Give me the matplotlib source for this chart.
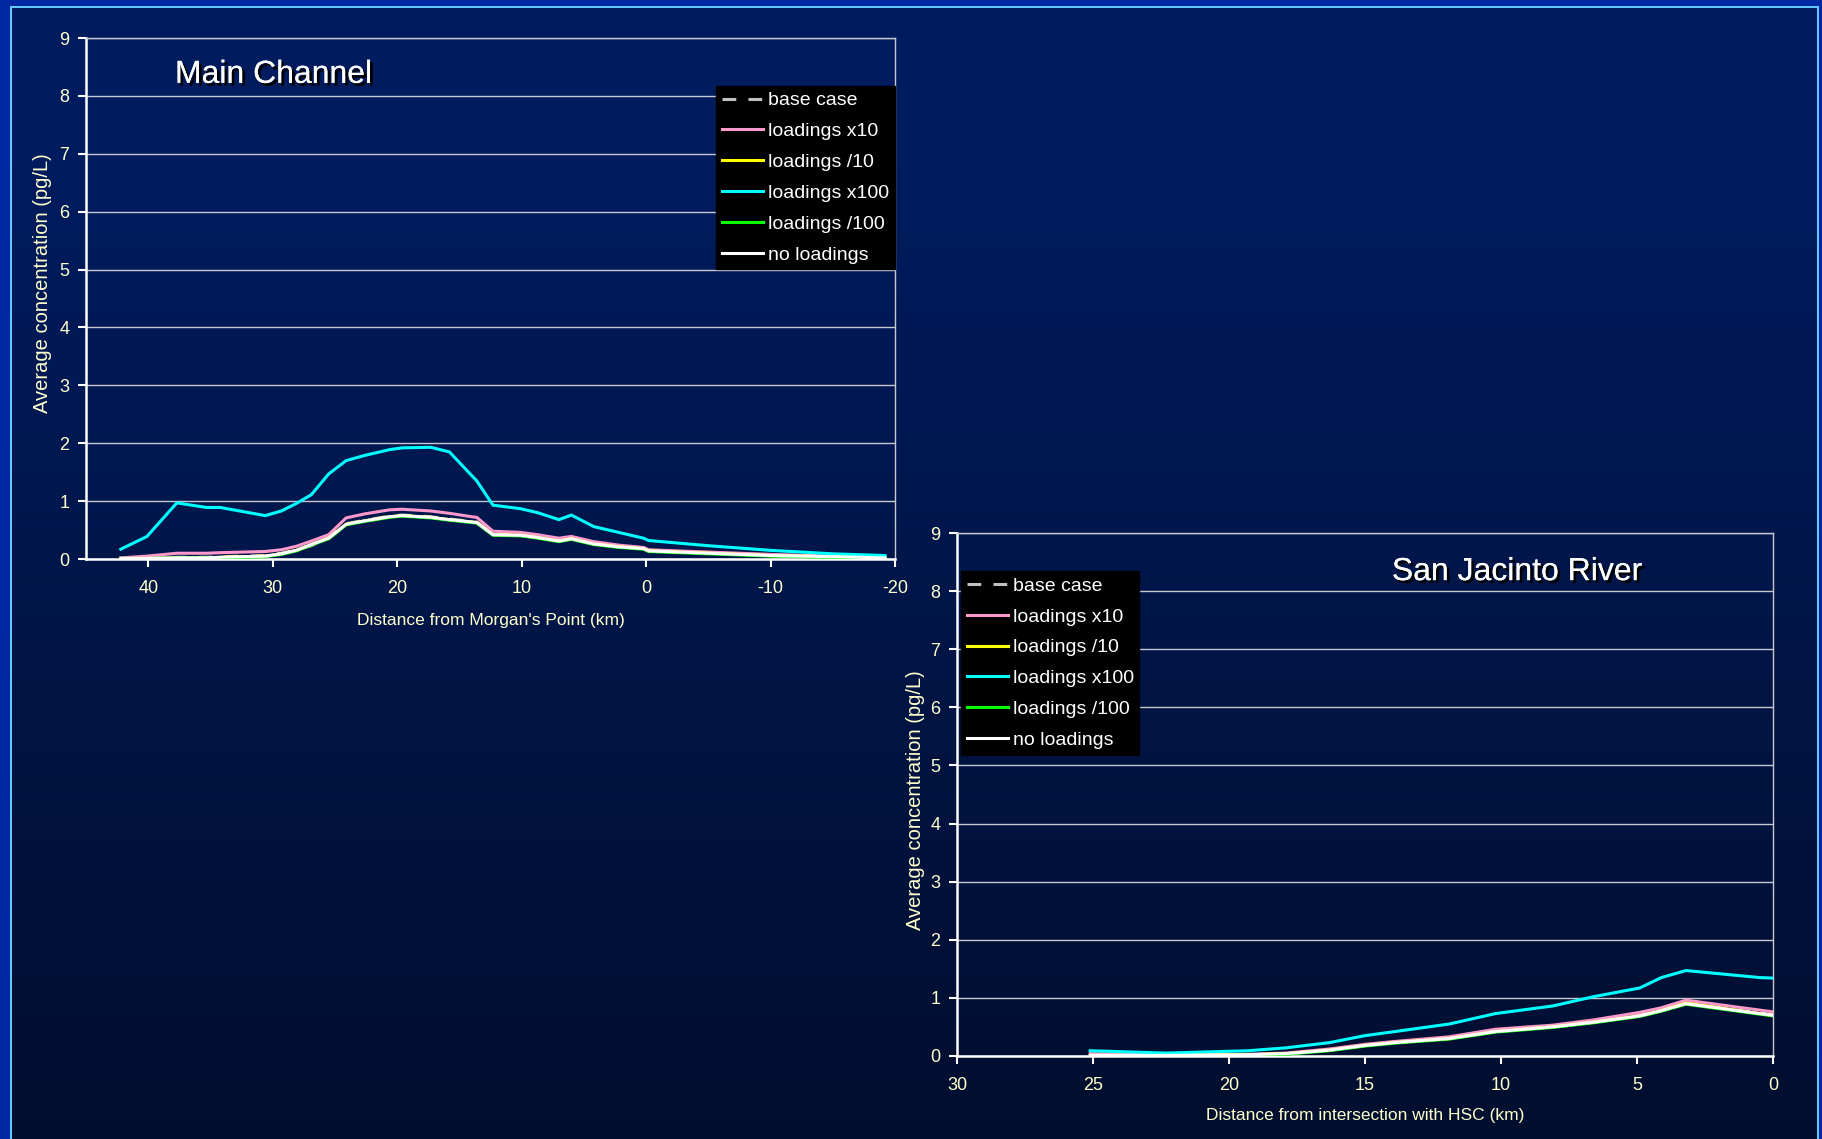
import numpy as np
import matplotlib.pyplot as plt
from matplotlib import patheffects

plt.rcParams['font.family'] = ['Liberation Sans', 'DejaVu Sans']
plt.rcParams['axes.unicode_minus'] = False

# Main Channel: distance from Morgan's Point (km) and average concentration (pg/L)
main_km = [42.2, 40.1, 37.7, 35.3, 34.2, 30.6, 29.3, 28.1, 26.9, 25.5, 24.1,
           22.6, 20.6, 19.6, 17.3, 15.8, 14.0, 13.6, 12.3, 10.1, 8.7, 7.0,
           6.0, 4.2, 2.2, 0.2, -0.2, -5.0, -10.0, -15.0, -19.2]
main_base = [0.01, 0.01, 0.03, 0.03, 0.04, 0.06, 0.10, 0.16, 0.23, 0.37, 0.61,
             0.67, 0.74, 0.76, 0.73, 0.69, 0.65, 0.64, 0.43, 0.42, 0.38, 0.32,
             0.35, 0.26, 0.21, 0.18, 0.14, 0.10, 0.06, 0.04, 0.02]
main_x10 = [0.02, 0.05, 0.10, 0.10, 0.11, 0.13, 0.16, 0.22, 0.31, 0.42, 0.71,
            0.78, 0.85, 0.86, 0.83, 0.79, 0.73, 0.72, 0.48, 0.46, 0.42, 0.36,
            0.39, 0.30, 0.24, 0.20, 0.16, 0.12, 0.08, 0.05, 0.03]
main_div10 = [0.01, 0.01, 0.02, 0.02, 0.03, 0.05, 0.09, 0.15, 0.25, 0.36, 0.60,
              0.66, 0.73, 0.75, 0.72, 0.68, 0.64, 0.63, 0.42, 0.41, 0.37, 0.31,
              0.35, 0.26, 0.21, 0.18, 0.14, 0.10, 0.06, 0.04, 0.02]
main_x100 = [0.17, 0.39, 0.97, 0.89, 0.89, 0.75, 0.83, 0.96, 1.11, 1.47, 1.70,
             1.79, 1.89, 1.92, 1.93, 1.85, 1.44, 1.35, 0.93, 0.87, 0.80, 0.68,
             0.76, 0.56, 0.46, 0.36, 0.32, 0.23, 0.15, 0.09, 0.06]
main_div100 = [0.01, 0.01, 0.02, 0.02, 0.02, 0.04, 0.08, 0.14, 0.24, 0.35, 0.59,
               0.65, 0.72, 0.74, 0.71, 0.67, 0.63, 0.62, 0.41, 0.40, 0.36, 0.30,
               0.34, 0.25, 0.20, 0.17, 0.13, 0.09, 0.05, 0.03, 0.01]
main_none = [0.01, 0.01, 0.02, 0.02, 0.03, 0.05, 0.09, 0.15, 0.25, 0.36, 0.60,
             0.66, 0.73, 0.75, 0.72, 0.68, 0.64, 0.63, 0.42, 0.41, 0.37, 0.31,
             0.35, 0.26, 0.21, 0.18, 0.14, 0.10, 0.06, 0.04, 0.02]

# San Jacinto River: distance from intersection with HSC (km)
sj_km = [25.1, 22.3, 19.3, 17.9, 16.3, 15.0, 13.9, 11.9, 10.2, 8.1, 6.6,
         4.9, 4.1, 3.2, 0.5, 0.0]
sj_base = [0.01, 0.01, 0.02, 0.04, 0.10, 0.18, 0.23, 0.30, 0.42, 0.50, 0.58,
           0.70, 0.79, 0.91, 0.74, 0.71]
sj_x10 = [0.04, 0.02, 0.03, 0.05, 0.12, 0.20, 0.25, 0.33, 0.46, 0.53, 0.62,
          0.75, 0.83, 0.96, 0.79, 0.76]
sj_div10 = [0.01, 0.01, 0.02, 0.04, 0.10, 0.18, 0.23, 0.30, 0.42, 0.50, 0.58,
            0.69, 0.78, 0.91, 0.73, 0.70]
sj_x100 = [0.09, 0.05, 0.09, 0.14, 0.23, 0.35, 0.42, 0.55, 0.73, 0.86, 1.02,
           1.17, 1.35, 1.47, 1.35, 1.34]
sj_div100 = [0.00, 0.00, 0.01, 0.03, 0.09, 0.17, 0.22, 0.29, 0.41, 0.49, 0.57,
             0.68, 0.77, 0.89, 0.72, 0.69]
sj_none = [0.01, 0.01, 0.02, 0.04, 0.10, 0.18, 0.23, 0.30, 0.42, 0.50, 0.58,
           0.69, 0.78, 0.90, 0.73, 0.70]

labels = ["base case", "loadings x10", "loadings /10", "loadings x100",
          "loadings /100", "no loadings"]
colors = ["#C0C0C0", "#FF99CC", "#FFFF00", "#00FFFF", "#00FF00", "#FFFFFF"]

TICK_COLOR = "#FFFFCC"

fig = plt.figure(figsize=(18.22, 11.39), dpi=100)

# slide background: blue frame with a light edge, dark blue gradient inside
H, W = 1139, 1822
t = np.clip((np.linspace(0, 1, H) - 0.15) / 0.85, 0, 1)[:, None, None]
top = np.array([0, 28, 94]) / 255
bot = np.array([0, 14, 46]) / 255
img = np.broadcast_to(top + (bot - top) * t, (H, W, 3)).copy()
edge = np.array([100, 200, 255]) / 255
band = np.array([0, 40, 160]) / 255
img[:, :12] = edge
img[:8, :] = edge
img[:, 1817:] = edge
img[:, :10] = band
img[:6, :] = band
img[:, 1819:] = band
bg = fig.add_axes([0, 0, 1, 1], zorder=-10)
bg.imshow(img, aspect="auto", interpolation="nearest")
bg.axis("off")


def draw_panel(ax, km, series, xlim, xticks, title, title_xy, xlabel,
               xlabel_y, ylabel_xy, leg_loc, leg_anchor):
    ax.set_facecolor("none")
    lines = []
    for i, (vals, lab, col) in enumerate(zip(series, labels, colors)):
        if i == 0:
            ln, = ax.plot(km, vals, color=col, lw=2.2, dashes=(4.5, 4), label=lab, zorder=3)
        else:
            ln, = ax.plot(km, vals, color=col, lw=2.2, label=lab, zorder=3 + i)
        lines.append(ln)

    ax.set_xlim(*xlim)
    ax.set_ylim(0, 9)
    ax.set_xticks(xticks)
    ax.set_yticks(range(10))
    ax.yaxis.grid(True, color="#C8C8D0", lw=1.0)
    ax.set_axisbelow(True)

    for side in ("left", "bottom"):
        ax.spines[side].set_color("white")
        ax.spines[side].set_linewidth(1.8)
    for side in ("top", "right"):
        ax.spines[side].set_color("#C8C8D0")
        ax.spines[side].set_linewidth(1.0)

    ax.tick_params(axis="both", colors="white", labelcolor=TICK_COLOR,
                   labelsize=13, length=6, width=1.5, direction="out")
    ax.tick_params(axis="x", pad=9)
    ax.tick_params(axis="y", pad=6)

    ax.set_xlabel(xlabel, color=TICK_COLOR, fontsize=12.5)
    ax.set_ylabel("Average concentration (pg/L)", color=TICK_COLOR, fontsize=14.5)
    ax.xaxis.set_label_coords(0.5, xlabel_y)
    ax.yaxis.set_label_coords(*ylabel_xy)

    ax.text(title_xy[0], title_xy[1], title, transform=ax.transAxes,
            color="white", fontsize=23, va="baseline", ha="left", zorder=20,
            path_effects=[patheffects.withSimplePatchShadow(offset=(2, -2),
                                                            shadow_rgbFace="black",
                                                            alpha=1.0),
                          patheffects.Normal()])

    leg = ax.legend(handles=lines, loc=leg_loc, bbox_to_anchor=leg_anchor,
                    borderaxespad=0, frameon=True, fancybox=False,
                    facecolor="black", edgecolor="black", framealpha=1,
                    fontsize=14, labelcolor="white", borderpad=0.3,
                    labelspacing=0.68, handlelength=2.1, handletextpad=0.25)
    leg.set_zorder(30)


ax1 = fig.add_axes([0.0472, 0.5092, 0.4440, 0.4574])
draw_panel(ax1, main_km,
           [main_base, main_x10, main_div10, main_x100, main_div100, main_none],
           (45, -20), [40, 30, 20, 10, 0, -10, -20],
           "Main Channel", (0.110, 0.914),
           "Distance from Morgan's Point (km)", -0.103, (-0.042, 0.53),
           "upper right", (1.0, 0.908))

ax2 = fig.add_axes([0.5252, 0.0729, 0.4479, 0.4591])
draw_panel(ax2, sj_km,
           [sj_base, sj_x10, sj_div10, sj_x100, sj_div100, sj_none],
           (30, 0), [30, 25, 20, 15, 10, 5, 0],
           "San Jacinto River", (0.533, 0.910),
           "Distance from intersection with HSC (km)", -0.100, (-0.039, 0.49),
           "upper left", (0.005, 0.927))

fig.savefig("out.png", dpi=100)
